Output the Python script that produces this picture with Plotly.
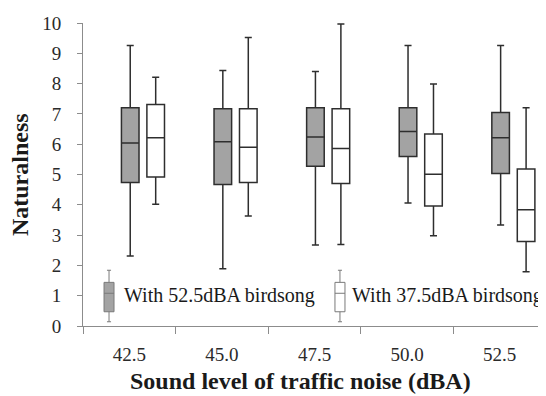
import plotly.graph_objects as go

# ---- data ----
categories = ["42.5", "45.0", "47.5", "50.0", "52.5"]
series_names = ["With 52.5dBA birdsong", "With 37.5dBA birdsong"]

# With 52.5 dBA birdsong (grey boxes)
g_low = [2.31, 1.89, 2.67, 4.06, 3.33]
g_q1 = [4.74, 4.67, 5.27, 5.59, 5.03]
g_med = [6.04, 6.08, 6.24, 6.42, 6.21]
g_q3 = [7.20, 7.17, 7.20, 7.20, 7.05]
g_high = [9.26, 8.43, 8.40, 9.26, 9.26]

# With 37.5 dBA birdsong (white boxes)
w_low = [4.02, 3.63, 2.69, 2.98, 1.79]
w_q1 = [4.92, 4.74, 4.70, 3.96, 2.79]
w_med = [6.21, 5.90, 5.86, 5.01, 3.84]
w_q3 = [7.31, 7.17, 7.17, 6.34, 5.18]
w_high = [8.21, 9.52, 9.97, 7.99, 7.20]

y_ticks = list(range(0, 11))

# ---- styling ----
FONT = "Liberation Serif"
TXT = "#1a1a1a"
AX = "#8c8c8c"
GREY_FILL = "#a3a3a3"
LINE = "#2e2e2e"
G_OFF, W_OFF, BOX_W = 0.01, 0.285, 0.19

idx = list(range(len(categories)))

fig = go.Figure()
fig.add_trace(go.Box(
    name=series_names[0], x=[i + G_OFF for i in idx],
    lowerfence=g_low, q1=g_q1, median=g_med, q3=g_q3, upperfence=g_high,
    width=BOX_W, whiskerwidth=0.4, fillcolor=GREY_FILL,
    line=dict(color=LINE, width=1.5), showlegend=False))
fig.add_trace(go.Box(
    name=series_names[1], x=[i + W_OFF for i in idx],
    lowerfence=w_low, q1=w_q1, median=w_med, q3=w_q3, upperfence=w_high,
    width=BOX_W, whiskerwidth=0.4, fillcolor="white",
    line=dict(color=LINE, width=1.5), showlegend=False))

# ---- custom legend (mini box icons + labels) ----
def legend_icon(xc, fill):
    hw, cw = 0.054, 0.022
    col = "#7a7a7a"
    shapes = [
        dict(type="line", x0=xc, x1=xc, y0=0.14, y1=1.84, line=dict(color=col, width=1)),
        dict(type="line", x0=xc - cw, x1=xc + cw, y0=1.84, y1=1.84, line=dict(color=col, width=1)),
        dict(type="line", x0=xc - cw, x1=xc + cw, y0=0.14, y1=0.14, line=dict(color=col, width=1)),
        dict(type="rect", x0=xc - hw, x1=xc + hw, y0=0.47, y1=1.44,
             fillcolor=fill, line=dict(color=col, width=1)),
        dict(type="line", x0=xc - hw, x1=xc + hw, y0=1.08, y1=1.08, line=dict(color=col, width=1)),
    ]
    for s in shapes:
        s.update(xref="x", yref="y", layer="above")
        fig.add_shape(**s)

legend_icon(-0.219, GREY_FILL)
legend_icon(2.275, "white")
fig.add_annotation(x=-0.079, y=1.0, xref="x", yref="y", text=series_names[0],
                   showarrow=False, xanchor="left", yanchor="middle",
                   font=dict(family=FONT, size=20, color=TXT))
fig.add_annotation(x=2.383, y=1.0, xref="x", yref="y", text=series_names[1],
                   showarrow=False, xanchor="left", yanchor="middle",
                   font=dict(family=FONT, size=20, color=TXT))

# ---- axis titles ----
fig.add_annotation(x=0.4687, y=0, yshift=-70, xref="paper", yref="paper",
                   text="<b>Sound level of traffic noise (dBA)</b>", showarrow=False,
                   xanchor="center", yanchor="bottom",
                   font=dict(family=FONT, size=24, color=TXT))
fig.add_annotation(x=-0.137, y=0.5, xref="paper", yref="paper",
                   text="<b>Naturalness</b>", showarrow=False, textangle=-90,
                   xanchor="center", yanchor="middle",
                   font=dict(family=FONT, size=24, color=TXT))

# page body has an 8px margin, so the figure is sized/offset to compensate
fig.update_layout(
    width=538, height=388,
    margin=dict(l=75, r=0, t=15, b=70),
    paper_bgcolor="white", plot_bgcolor="white",
    boxmode="overlay",
    font=dict(family=FONT, color=TXT),
    xaxis=dict(
        range=[-0.5, 4.5], tickmode="array", tickvals=idx, ticktext=categories,
        ticks="", showgrid=False, zeroline=False,
        showline=True, linecolor=AX, linewidth=1,
        tickfont=dict(family=FONT, size=19, color="#2a2a2a"),
        ticklabelstandoff=11,
        minor=dict(tickmode="array", tickvals=[-0.5, 0.5, 1.5, 2.5, 3.5, 4.5],
                   ticks="outside", ticklen=7, tickcolor=AX, tickwidth=1, showgrid=False),
    ),
    yaxis=dict(
        range=[0, 10], tickmode="array", tickvals=y_ticks,
        ticks="outside", ticklen=5, tickcolor=AX, tickwidth=1,
        showgrid=False, zeroline=False,
        showline=True, linecolor=AX, linewidth=1,
        tickfont=dict(family=FONT, size=19, color="#2a2a2a"),
        ticklabelstandoff=12,
    ),
)

fig.write_html("out.html")
